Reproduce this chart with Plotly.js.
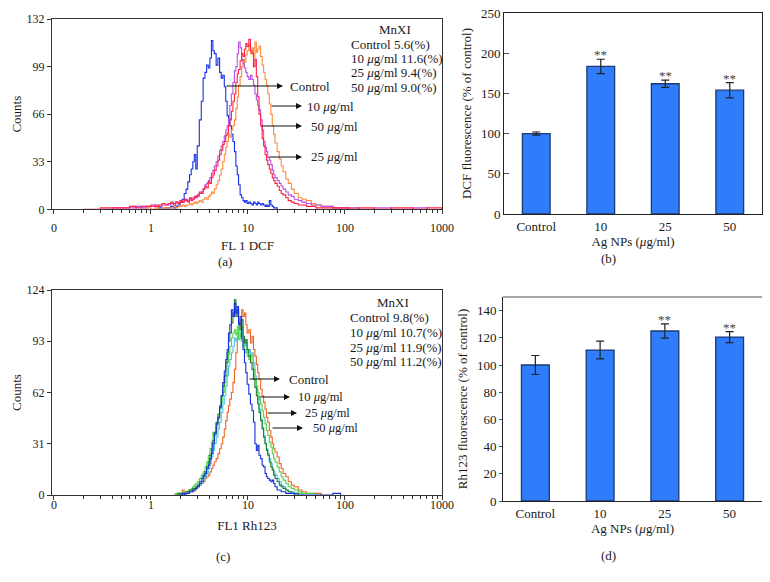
<!DOCTYPE html>
<html>
<head>
<meta charset="utf-8">
<script src="https://cdn.plot.ly/plotly-3.0.1.min.js"></script>
<style>html,body{margin:0;padding:0;background:#fff;}#chart{width:770px;height:582px;}</style>
</head>
<body>
<div id="chart"></div>
<script>
// ---------- DATA ----------
// fluorescence channel positions (FL1, log scale) shared by both histograms
const channels = [
  0.12, 0.2, 0.3, 0.4, 0.5, 0.6, 0.7, 0.8, 0.9, 1.0, 1.1, 1.2, 1.3, 1.4,
  1.5, 1.6, 1.7, 1.8, 1.9, 2.0, 2.1, 2.2, 2.3, 2.4, 2.5, 2.6, 2.7, 2.8, 2.9, 3.0,
  3.15, 3.3, 3.45, 3.6, 3.75, 3.9, 4.05, 4.2, 4.35, 4.5,
  4.7, 4.9, 5.1, 5.3, 5.5, 5.7, 5.9, 6.1, 6.3, 6.5,
  6.75, 7.0, 7.25, 7.5, 7.75, 8.0,
  8.3, 8.6, 8.9, 9.2, 9.5, 9.8,
  10.2, 10.6, 11.0, 11.4, 11.8, 12.2, 12.6, 13.0,
  13.5, 14.0, 14.5, 15.0, 15.5, 16.0,
  16.6, 17.2, 17.8, 18.4, 19.0,
  20, 21, 22, 23, 24.5, 26, 28, 30, 33, 36, 40, 45, 50, 57, 65, 75, 90, 110, 140, 200, 300, 500, 700, 1000
];

// Panel (a): DCF histograms (counts)
const dcfControl = [
  0,0,0,0,0,0,0,0,0,0,0,1,0,1,
  1,2,1,2,3,5,7,11,14,19,24,28,33,38,28,44,
  62,75,91,95,100,98,105,117,110,108,
  100,105,95,91,93,85,75,65,63,58,
  52,47,40,30,24,17,
  10,8,6,5,6,4,
  5,4,3,5,4,3,5,4,
  3,4,3,2,3,2,
  6,3,2,1,1,
  0,0,0,0,0,0,0,0,0,0,0,0,0,0,0,0,0,0,0,0,0,0,0,0
];
const dcf10 = [
  0,0,0,0,0,0,0,0,1,0,1,0,1,1,
  1,1,2,1,2,2,3,2,3,3,4,3,4,5,4,5,
  6,5,7,8,7,9,10,12,11,14,
  17,20,24,28,33,38,43,47,52,50,
  55,58,62,70,78,86,
  92,99,104,102,107,110,
  114,108,112,105,116,109,111,113,
  106,100,95,90,86,80,
  73,66,58,52,46,
  40,35,30,26,21,18,14,11,8,7,6,4,3,2,2,1,1,1,0,0,0,0,0,0
];
const dcf25 = [
  0,0,0,1,1,1,2,1,2,2,3,2,3,3,
  3,4,4,5,4,6,5,6,7,6,7,8,7,8,9,9,
  11,12,14,17,18,20,22,25,27,30,
  33,37,41,44,47,51,55,58,63,72,
  80,88,96,99,108,116,
  112,104,101,98,95,92,
  90,93,90,86,80,76,72,69,
  62,55,47,43,40,36,
  34,31,27,24,22,
  20,18,16,14,12,10,9,7,6,5,4,3,3,2,2,1,1,1,0,1,0,1,0,0
];
const dcf50 = [
  0,0,1,1,1,2,1,2,2,3,2,3,4,3,
  4,5,3,5,4,6,5,7,6,5,8,6,7,9,8,10,
  12,11,14,16,15,19,18,22,24,27,
  30,34,38,41,45,47,51,53,58,62,
  68,75,80,88,94,97,
  103,108,106,111,115,113,
  118,110,108,99,104,92,78,66,
  58,49,44,38,34,31,
  28,25,22,20,18,
  16,13,11,10,8,6,5,4,3,3,2,2,1,1,1,1,1,0,1,0,1,0,1,0
];

// Panel (c): Rh123 histograms (counts)
const rhControl = [
  0,0,0,0,0,0,0,0,0,0,0,0,0,0,
  0,0,0,0,0,0,1,0,1,1,2,2,3,3,4,5,
  7,8,11,13,16,18,22,25,31,37,
  43,47,53,60,68,75,82,88,98,103,
  112,108,116,110,114,103,
  108,95,88,80,74,67,
  61,55,51,44,31,27,30,24,
  22,18,17,13,11,10,
  9,8,9,7,5,
  3,3,2,2,1,1,1,0,0,0,0,0,0,0,0,1,0,0,0,0,0,0,0,0
];
const rhDarkGreen = [
  0,0,0,0,0,0,0,0,0,0,0,0,0,0,
  0,0,0,0,1,0,1,1,2,2,3,3,4,4,5,6,
  8,10,12,14,17,20,24,28,33,38,
  44,49,54,60,66,72,80,86,93,98,
  104,110,118,108,112,104,
  100,106,96,92,94,88,
  84,80,76,70,65,60,55,50,
  45,40,35,31,27,24,
  20,17,15,12,10,
  8,6,5,4,3,2,1,1,0,0,0,0,0,0,0,0,0,0,0,0,0,0,0,0
];
const rh10 = [
  0,0,0,0,0,0,0,0,0,0,0,0,0,0,
  0,0,0,1,0,1,1,2,2,3,3,4,5,6,7,8,
  10,12,14,17,20,24,28,32,38,36,
  41,46,52,56,62,68,72,80,85,90,
  95,98,100,97,102,94,
  98,93,90,86,88,84,
  82,85,80,76,70,66,62,58,
  55,51,47,43,39,36,
  32,29,25,22,20,
  17,14,11,9,7,5,4,3,2,1,1,1,0,0,0,0,0,0,0,0,0,0,0,0
];
const rh25 = [
  0,0,0,0,0,0,0,0,0,0,0,0,0,0,
  0,0,0,0,0,1,0,1,1,2,2,2,3,3,4,5,
  6,7,9,11,13,16,19,23,27,31,
  35,40,44,50,55,60,66,72,78,82,
  86,90,95,93,98,100,
  96,102,94,90,92,86,
  88,84,86,80,72,64,58,52,
  46,41,36,31,28,25,
  22,19,16,14,12,
  10,8,6,5,3,2,2,1,1,0,0,0,0,0,0,0,0,0,0,0,0,0,0,0
];
const rh50 = [
  0,0,0,0,0,0,0,0,0,0,0,0,0,0,
  0,0,0,0,0,1,3,1,1,2,2,3,2,3,4,5,
  6,7,8,10,11,12,14,16,18,20,
  22,25,28,31,35,40,45,50,54,58,
  62,68,76,86,95,101,
  106,112,108,110,103,98,
  100,92,96,88,84,79,74,70,
  64,60,56,52,47,44,
  39,35,31,28,26,
  23,19,16,13,11,8,6,5,3,2,1,1,1,0,0,0,0,0,0,0,0,0,0,0
];

// Bar panels
const doseLabels = ['Control', '10', '25', '50'];
const dcfMean = [100, 183.5, 162, 154];
const dcfErr  = [2, 9, 4.4, 9.5];
const dcfSig  = ['', '**', '**', '**'];
const rhMean  = [100, 111, 125, 120.5];
const rhErr   = [7, 6.5, 5.2, 4];
const rhSig   = ['', '', '**', '**'];

// Axis tick labels
const flTickVals = [0.1, 1, 10, 100, 1000];
const flTickText = ['0', '1', '10', '100', '1000'];
const flMinorVals = [0.2,0.3,0.4,0.5,0.6,0.7,0.8,0.9, 2,3,4,5,6,7,8,9, 20,30,40,50,60,70,80,90, 200,300,400,500,600,700,800,900];
const dcfCountTicks = [0, 33, 66, 99, 132];
const rhCountTicks = [0, 31, 62, 93, 124];

// ---------- FIGURE ----------
const W = 770, H = 582;
const X = p => p / W;
const Y = p => 1 - p / H;
const FONT = 'Liberation Serif, Times New Roman, serif';
const INK = '#1a1a1a';

// keep one zero point on each side of a histogram's non-zero support
function support(y) {
  let first = y.findIndex(v => v > 0);
  let last = y.length - 1;
  while (last > 0 && !(y[last] > 0)) last--;
  const s = Math.max(0, first - 1), e = Math.min(y.length - 1, last + 1);
  return [s, e + 1];
}
function hist(y, color, xa, ya, name) {
  const [s, e] = support(y);
  return {x: channels.slice(s, e), y: y.slice(s, e), type: 'scatter', mode: 'lines',
          line: {color: color, width: 1.1, shape: 'hv'},
          xaxis: xa, yaxis: ya, name: name, showlegend: false, hoverinfo: 'skip'};
}

const traces = [
  hist(dcfControl, '#1630e8', 'x', 'y', 'Control'),
  hist(dcf10, '#ff8a3a', 'x', 'y', '10 μg/ml'),
  hist(dcf25, '#b94fe6', 'x', 'y', '25 μg/ml'),
  hist(dcf50, '#ff2040', 'x', 'y', '50 μg/ml'),
  hist(rh50, '#f06622', 'x3', 'y3', '50 μg/ml'),
  hist(rh25, '#48c6ea', 'x3', 'y3', '25 μg/ml'),
  hist(rh10, '#52d24e', 'x3', 'y3', '10 μg/ml'),
  hist(rhDarkGreen, '#1e7a24', 'x3', 'y3', ''),
  hist(rhControl, '#1430e0', 'x3', 'y3', 'Control'),
  {x: doseLabels, y: dcfMean, type: 'bar', xaxis: 'x2', yaxis: 'y2', width: 0.43,
   marker: {color: '#2f7dfb', line: {color: '#1d3b73', width: 1.3}},
   error_y: {type: 'data', array: dcfErr, visible: true, color: '#222', thickness: 1.2, width: 4},
   showlegend: false, hoverinfo: 'skip'},
  {x: doseLabels, y: rhMean, type: 'bar', xaxis: 'x4', yaxis: 'y4', width: 0.43,
   marker: {color: '#2f7dfb', line: {color: '#1d3b73', width: 1.3}},
   error_y: {type: 'data', array: rhErr, visible: true, color: '#222', thickness: 1.2, width: 4},
   showlegend: false, hoverinfo: 'skip'}
];

const tickFont = {family: FONT, size: 12, color: INK};
const titleFont = {family: FONT, size: 13, color: INK};

function flAxis(domain, anchor, title, labelStandoff, titleStandoff) {
  return {domain: domain, anchor: anchor, type: 'log', range: [-1.02, 3.0],
    tickmode: 'array', tickvals: flTickVals, ticktext: flTickText,
    ticks: 'outside', ticklen: 4, tickcolor: '#333', ticklabelstandoff: labelStandoff,
    minor: {tickmode: 'array', tickvals: flMinorVals, ticks: 'outside', ticklen: 3, tickcolor: '#333'},
    showline: true, mirror: true, linecolor: '#333', linewidth: 1,
    showgrid: false, zeroline: false, tickfont: tickFont,
    title: {text: title, font: titleFont, standoff: titleStandoff}};
}
function countAxis(domain, anchor, ticks) {
  return {domain: domain, anchor: anchor, range: [0, ticks[ticks.length - 1]],
    tickmode: 'array', tickvals: ticks, ticks: 'outside', ticklen: 4, tickcolor: '#333',
    showline: true, mirror: true, linecolor: '#333', linewidth: 1,
    showgrid: false, zeroline: false, tickfont: tickFont,
    title: {text: 'Counts', font: titleFont, standoff: 2}};
}

const layout = {
  width: W, height: H, margin: {l: 0, r: 0, t: 0, b: 0},
  paper_bgcolor: '#fff', plot_bgcolor: '#fff',
  font: {family: FONT, color: INK},
  showlegend: false, bargap: 0.5,
  xaxis: flAxis([X(52), X(442)], 'y', '', 3, 2),
  yaxis: countAxis([Y(209.3), Y(19)], 'x', dcfCountTicks),
  xaxis3: flAxis([X(52), X(442)], 'y3', 'FL1 Rh123', -5, 9),
  yaxis3: countAxis([Y(495), Y(290)], 'x3', rhCountTicks),
  xaxis2: {domain: [X(504), X(762)], anchor: 'y2', type: 'category', range: [-0.5, 3.5],
    showline: true, mirror: true, linecolor: '#222', linewidth: 1, ticks: '',
    tickfont: {family: FONT, size: 13, color: INK}, showgrid: false, zeroline: false,
    title: {text: 'Ag NPs (<i>μ</i>g/ml)', font: titleFont, standoff: 2}},
  yaxis2: {domain: [Y(214), Y(13)], anchor: 'x2', range: [0, 250], tickvals: [0, 50, 100, 150, 200, 250],
    ticks: 'inside', ticklen: 5, tickcolor: '#555', showline: true, mirror: true, linecolor: '#222', linewidth: 1,
    showgrid: false, zeroline: false, tickfont: {family: FONT, size: 13, color: INK},
    title: {text: 'DCF fluorescence (% of control)', font: titleFont, standoff: 6}},
  xaxis4: {domain: [X(503), X(762)], anchor: 'y4', type: 'category', range: [-0.5, 3.5],
    showline: true, mirror: false, linecolor: '#222', linewidth: 1, ticks: '',
    tickfont: {family: FONT, size: 13, color: INK}, showgrid: false, zeroline: false,
    title: {text: 'Ag NPs (<i>μ</i>g/ml)', font: titleFont, standoff: 2}},
  yaxis4: {domain: [Y(501), Y(297)], anchor: 'x4', range: [0, 150], tickvals: [0, 20, 40, 60, 80, 100, 120, 140],
    ticks: 'outside', ticklen: 3, tickcolor: '#555', showline: true, mirror: false, linecolor: '#222', linewidth: 1,
    showgrid: false, zeroline: false, tickfont: {family: FONT, size: 13, color: INK},
    title: {text: 'Rh123 fluorescence (% of control)', font: titleFont, standoff: 6}},
  shapes: [
    {type: 'line', xref: 'paper', yref: 'paper', x0: X(503), x1: X(762), y0: Y(297), y1: Y(297),
     line: {color: '#8a8a8a', width: 1.5}}
  ],
  annotations: []
};

const ann = layout.annotations;
function txt(px, py, text, anchor, size) {
  ann.push({xref: 'paper', yref: 'paper', x: X(px), y: Y(py), text: text, showarrow: false,
    xanchor: anchor || 'left', yanchor: 'middle', font: {family: FONT, size: size || 13, color: INK}});
}
function arrow(tailPx, tipPx, py) {
  ann.push({xref: 'paper', yref: 'paper', x: X(tipPx), y: Y(py), text: '', showarrow: true,
    ax: tailPx - tipPx, ay: 0, arrowhead: 2, arrowsize: 1, arrowwidth: 1.2, arrowcolor: '#111', standoff: 0});
}

// panel (a) x-axis title (sits close under the tick labels)
txt(247, 245, 'FL 1 DCF', 'center');

// panel (a) texts
txt(395, 29, 'MnXI', 'center');
txt(349, 44.2, 'Control 5.6(%)');
txt(349, 58.7, '10 <i>μ</i>g/ml 11.6(%)');
txt(349, 72.9, '25 <i>μ</i>g/ml 9.4(%)');
txt(349, 87.3, '50 <i>μ</i>g/ml 9.0(%)');
arrow(225, 283, 86);  txt(288, 86, 'Control');
arrow(270, 302, 106); txt(305, 106, '10 <i>μ</i>g/ml');
arrow(260, 302, 126); txt(309, 126, '50 <i>μ</i>g/ml');
arrow(268, 302, 157); txt(309, 157, '25 <i>μ</i>g/ml');

// panel (c) texts
txt(393, 302, 'MnXI', 'center');
txt(348, 317, 'Control 9.8(%)');
txt(348, 332, '10 <i>μ</i>g/ml 10.7(%)');
txt(348, 347, '25 <i>μ</i>g/ml 11.9(%)');
txt(348, 361.5, '50 <i>μ</i>g/ml 11.2(%)');
arrow(248, 280, 379); txt(287, 379, 'Control');
arrow(258, 290, 397); txt(296, 397, '10 <i>μ</i>g/ml', 'left', 12.5);
arrow(266, 297, 413); txt(303, 413, '25 <i>μ</i>g/ml', 'left', 12.5);
arrow(271, 303, 428); txt(311, 428, '50 <i>μ</i>g/ml', 'left', 12.5);

// panel labels
txt(225, 261, '(a)', 'center');
txt(608, 258, '(b)', 'center');
txt(223, 556, '(c)', 'center');
txt(608, 555, '(d)', 'center');

// significance stars from data (category axes use the category index)
function stars(means, errs, sig, xr, yr) {
  means.forEach((m, i) => {
    if (!sig[i]) return;
    ann.push({xref: xr, yref: yr, x: i, y: m + errs[i], text: sig[i], showarrow: false,
      xanchor: 'center', yanchor: 'bottom', yshift: -5, font: {family: FONT, size: 13, color: '#444'}});
  });
}
stars(dcfMean, dcfErr, dcfSig, 'x2', 'y2');
stars(rhMean, rhErr, rhSig, 'x4', 'y4');

Plotly.newPlot('chart', traces, layout, {staticPlot: true, displayModeBar: false});
</script>
</body>
</html>
